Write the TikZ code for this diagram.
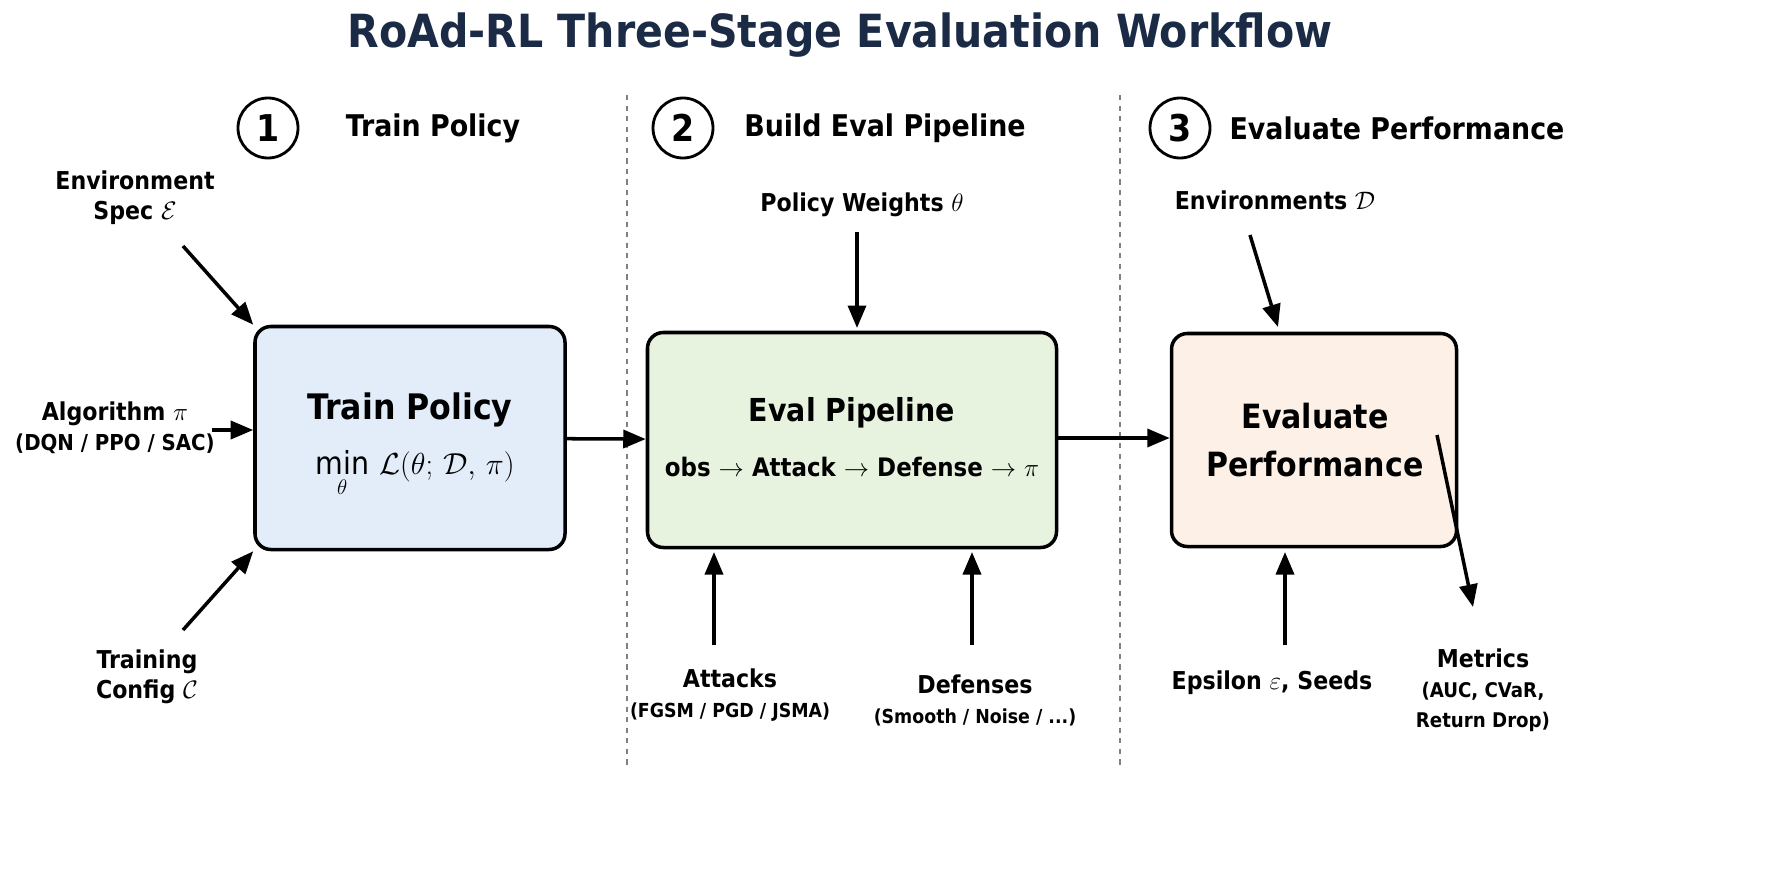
\documentclass[tikz,border=0pt]{standalone}
\usepackage{amsmath}
\usepackage{amssymb}
\usepackage{fontspec}
\setmainfont{DejaVu Sans Condensed}[BoldFont={DejaVu Sans Condensed Bold}]
\definecolor{navy}{HTML}{1B2B45}
\definecolor{bluebg}{HTML}{E3ECF9}
\definecolor{greenbg}{HTML}{E7F3DF}
\definecolor{peachbg}{HTML}{FDF1E7}
\usetikzlibrary{positioning,arrows.meta,calc}

\tikzset{
  stage/.style={draw,line width=2pt,rounded corners=9pt,minimum height=43mm,align=center},
  num/.style={draw,circle,line width=1.6pt,minimum size=12mm,inner sep=0pt,font=\fontsize{21}{21}\selectfont\bfseries},
  head/.style={font=\fontsize{17}{17}\selectfont\bfseries},
  lbl/.style={align=center,font=\fontsize{14}{17}\selectfont\bfseries},
  feed/.style={-{Triangle[length=4.5mm,width=3.6mm]},line width=2pt},
}

\begin{document}
\begin{tikzpicture}[x=0.2mm,y=-0.2mm]
\useasboundingbox (0,0) rectangle (1774,887);
\node [font=\fontsize{26}{26}\selectfont\bfseries,text=navy] (title) at (840,35) {RoAd-RL Three-Stage Evaluation Workflow};
% separators
\draw [dashed,gray,line width=0.9pt] (627,95) -- (627,765);
\draw [dashed,gray,line width=0.9pt] (1120,95) -- (1120,765);
% stage headers
\node [num] (n1) at (268,128) {1};  \node [head] (h1) at (433,128) {Train Policy};
\node [num] (n2) at (683,128) {2};  \node [head] (h2) at (885,128) {Build Eval Pipeline};
\node [num] (n3) at (1180,128) {3}; \node [head] (h3) at (1397,128) {Evaluate Performance};
% boxes
\node [stage,fill=bluebg,minimum width=62mm,minimum height=44.6mm] (train) at (410,438) {};
\node [stage,fill=greenbg,minimum width=81.8mm] (pipe) at (852,440) {};
\node [stage,fill=peachbg,minimum width=57mm,minimum height=42.6mm] (evalp) at (1314,440) {};
\node [font=\fontsize{20}{20}\selectfont\bfseries] at (410,410) {Train Policy};
\node [font=\fontsize{18}{18}\selectfont] at (415,474) {$\displaystyle\min_{\theta}\,\mathcal{L}(\theta;\,\mathcal{D},\,\pi)$};
\node [font=\fontsize{18}{18}\selectfont\bfseries] at (852,413) {Eval Pipeline};
\node [font=\fontsize{14.5}{14.5}\selectfont\bfseries] at (852,467) {obs $\rightarrow$ Attack $\rightarrow$ Defense $\rightarrow$ $\pi$};
\node [font=\fontsize{19}{27}\selectfont\bfseries,align=center] at (1315,440) {Evaluate\\Performance};
% stage flow
\draw [feed] (train) -- (pipe);
\draw [feed] (pipe.east |- 0,438) -- (evalp.west |- 0,438);
% inputs, stage 1
\node [lbl] (env) at (135,198) {Environment\\Spec $\mathcal{E}$};
\node [lbl] (alg) at (115,428) {Algorithm $\pi$\\{\fontsize{12.5}{16}\selectfont (DQN / PPO / SAC)}};
\node [lbl] (cfg) at (147,677) {Training\\Config $\mathcal{C}$};
\coordinate (envs) at (183,246);
\coordinate (cfgs) at (183,630);
\draw [feed] (envs) -- (train.north west);
\draw [feed] (212,430) -- (train.west |- 0,430);
\draw [feed] (cfgs) -- (train.south west);
% inputs, stage 2
\node [lbl] (wts) at (862,205) {Policy Weights $\theta$};
\node [lbl] (atk) at (730,695) {Attacks\\{\fontsize{11}{15}\selectfont (FGSM / PGD / JSMA)}};
\node [lbl] (dfn) at (975,700) {Defenses\\{\fontsize{11}{15}\selectfont (Smooth / Noise / ...)}};
\draw [feed] (857,232) -- (857,328);
\draw [feed] (714,645) -- (714,552);
\draw [feed] (972,645) -- (972,552);
% inputs, stage 3
\node [lbl] (envd) at (1275,200) {Environments $\mathcal{D}$};
\node [lbl] (eps) at (1272,683) {Epsilon $\varepsilon$, Seeds};
\node [lbl] (met) at (1483,690) {Metrics\\{\fontsize{11.5}{16}\selectfont (AUC, CVaR,}\\{\fontsize{11.5}{16}\selectfont Return Drop)}};
\coordinate (ms) at (1437,435);
\draw [feed] (1250,235) -- (1278,327);
\draw [feed] (1285,645) -- (1285,552);
\draw [feed] (ms) -- (1473,607);
\end{tikzpicture}
\end{document}
